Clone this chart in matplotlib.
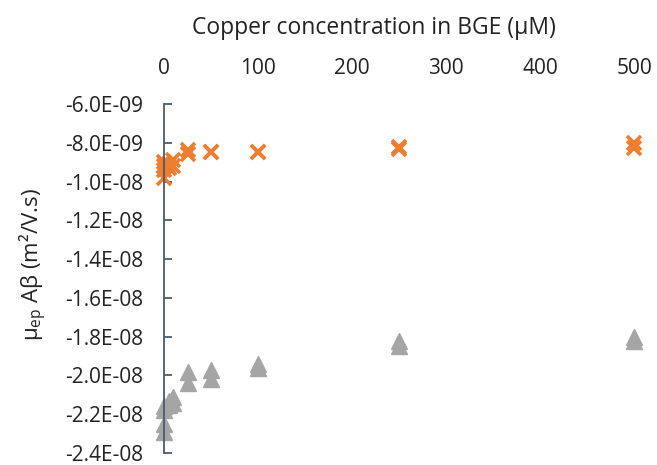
import matplotlib
matplotlib.use("Agg")
import matplotlib.pyplot as plt
from matplotlib.ticker import FuncFormatter

plt.rcParams['font.family'] = ['Open Sans', 'DejaVu Sans']
plt.rcParams['mathtext.fontset'] = 'custom'
plt.rcParams['mathtext.rm'] = 'Open Sans'

conc = [0, 0, 0, 0, 5, 5, 10, 10, 25, 25, 50, 50, 100, 100, 250, 250, 500, 500]
mu_orange = [-9.0e-9, -9.4e-9, -9.8e-9, -9.2e-9, -9.1e-9, -9.3e-9, -8.9e-9, -9.2e-9,
             -8.35e-9, -8.6e-9, -8.45e-9, -8.5e-9, -8.45e-9, -8.47e-9,
             -8.2e-9, -8.3e-9, -8.0e-9, -8.25e-9]
mu_gray = [-2.16e-8, -2.18e-8, -2.25e-8, -2.29e-8, -2.15e-8, -2.13e-8, -2.11e-8, -2.14e-8,
           -1.98e-8, -2.04e-8, -1.97e-8, -2.02e-8, -1.94e-8, -1.96e-8,
           -1.82e-8, -1.85e-8, -1.80e-8, -1.82e-8]
xticks = [0, 100, 200, 300, 400, 500]
yticks = [-6e-9, -8e-9, -1e-8, -1.2e-8, -1.4e-8, -1.6e-8, -1.8e-8, -2e-8, -2.2e-8, -2.4e-8]

fig = plt.figure(figsize=(6.57, 4.65), dpi=100)
ax = fig.add_axes([164/657, 1-453/465, (634-164)/657, (453-104)/465])

ax.plot(conc, mu_orange, linestyle='none', marker='x', color='#ED7D31',
        markersize=10, markeredgewidth=2.6, clip_on=False)
ax.plot(conc, mu_gray, linestyle='none', marker='^', color='#A5A5A5',
        markersize=11, clip_on=False)

ax.set_xlim(0, 500)
ax.set_ylim(-2.4e-8, -6e-9)
axis_col = '#4a5a70'
for s in ['top', 'right', 'bottom']:
    ax.spines[s].set_visible(False)
ax.spines['left'].set_color(axis_col)
ax.spines['left'].set_linewidth(1.3)

ax.xaxis.tick_top()
ax.set_xticks(xticks)
ax.tick_params(axis='x', length=0, pad=18, labelsize=15, labelcolor='#222222')
ax.set_yticks(yticks)
ax.yaxis.set_major_formatter(FuncFormatter(lambda v, p: f"{v:.1E}"))
ax.tick_params(axis='y', direction='in', length=6, width=1.3, color=axis_col,
               pad=15, labelsize=15, labelcolor='#222222')

fig.text(374/657, 1-28/465, 'Copper concentration in BGE (µM)', ha='center', va='center',
         fontsize=16.5, color='#222222')
fig.text(33/657, 1-265/465, r'μ$_{\mathrm{ep}}$ Aβ (m²/V.s)', ha='center', va='center',
         rotation=90, fontsize=16, color='#222222')

fig.savefig('out.png', dpi=100)
